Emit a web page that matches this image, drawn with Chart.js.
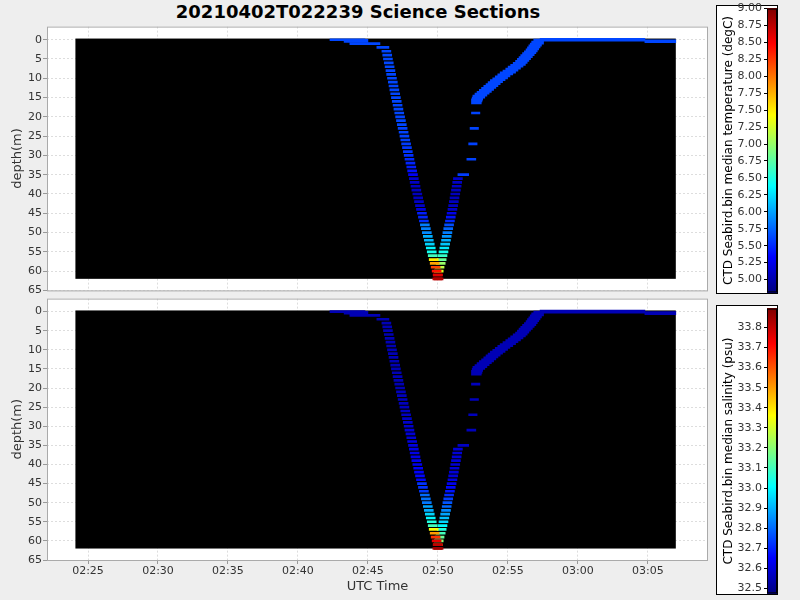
<!DOCTYPE html>
<html><head><meta charset="utf-8">
<script src="https://cdn.jsdelivr.net/npm/chart.js@4.4.1/dist/chart.umd.min.js"></script>
<style>
body{margin:0;background:#eeeeee;width:800px;height:600px;overflow:hidden;font-family:"DejaVu Sans",sans-serif}
canvas{position:absolute}
.box{position:absolute;left:716px;width:62px;background:#fff;border:1px solid #000;box-sizing:border-box}
#title{position:absolute;left:0;width:716px;top:1px;text-align:center;font:bold 18px "DejaVu Sans";color:#000}
</style></head><body>
<div id="title">20210402T022239 Science Sections</div>
<div class="box" style="top:5px;height:289px"></div>
<div class="box" style="top:305px;height:290px"></div>
<canvas id="tempChart" style="left:0;top:19px;width:712px;height:279px"></canvas>
<canvas id="salChart" style="left:0;top:291px;width:712px;height:309px"></canvas>
<canvas id="tempBar" style="left:716px;top:0;width:63px;height:301px"></canvas>
<canvas id="salBar" style="left:716px;top:300px;width:63px;height:302px"></canvas>
<script>
// times are minutes after 02:00 UTC
const downDepth = [0,1,2,3,4,5,6,7,8,9,10,11,12,13,14,15,16,17,18,19,20,21,22,23,24,25,26,27,28,29,30,31,32,33,34,35,36,37,38,39,40,41,42,43,44,45,46,47,48,49,50,51,52,53,54,55,56,57,58,59,60,61,62];
const downStart = [42.29,43.71,45.64,46.00,46.06,46.11,46.17,46.23,46.29,46.34,46.40,46.46,46.51,46.57,46.63,46.68,46.74,46.80,46.86,46.92,46.98,47.04,47.10,47.16,47.23,47.29,47.35,47.41,47.47,47.53,47.59,47.65,47.72,47.78,47.84,47.90,47.96,48.02,48.08,48.14,48.21,48.27,48.33,48.40,48.47,48.54,48.61,48.68,48.75,48.82,48.89,48.96,49.03,49.10,49.17,49.24,49.31,49.38,49.45,49.52,49.59,49.66,49.73];
const downEnd = [44.79,45.86,46.50,46.64,46.70,46.75,46.81,46.87,46.93,46.98,47.04,47.10,47.15,47.21,47.27,47.32,47.38,47.44,47.50,47.56,47.62,47.68,47.74,47.80,47.87,47.93,47.99,48.05,48.11,48.17,48.23,48.29,48.36,48.42,48.48,48.54,48.60,48.66,48.72,48.78,48.85,48.91,48.97,49.04,49.11,49.18,49.25,49.32,49.39,49.46,49.53,49.60,49.67,49.74,49.81,49.88,49.95,50.02,50.09,50.16,50.23,50.30,50.37];
const downTemp = [5.62,5.62,5.62,5.62,5.62,5.63,5.62,5.62,5.61,5.62,5.62,5.62,5.61,5.62,5.62,5.62,5.62,5.61,5.62,5.62,5.61,5.62,5.62,5.60,5.61,5.60,5.60,5.58,5.56,5.55,5.52,5.50,5.48,5.45,5.40,5.30,5.12,5.10,5.08,5.08,5.07,5.08,5.10,5.12,5.20,5.45,5.48,5.52,5.85,5.86,5.90,6.05,6.08,6.20,6.35,6.45,6.65,7.50,7.80,8.20,8.40,8.60,8.80];
const downSal = [32.55,32.55,32.55,32.55,32.55,32.55,32.55,32.55,32.55,32.55,32.55,32.55,32.55,32.55,32.55,32.55,32.55,32.55,32.55,32.55,32.55,32.56,32.56,32.56,32.56,32.56,32.57,32.57,32.57,32.58,32.58,32.60,32.60,32.60,32.61,32.61,32.62,32.62,32.62,32.63,32.63,32.65,32.65,32.66,32.66,32.72,32.72,32.73,32.80,32.81,32.82,32.88,32.89,32.95,33.00,33.05,33.10,33.35,33.50,33.65,33.75,33.80,33.85];

const upDepth = [62,61,60,59,58,57,56,55,54,53,52,51,50,49,48,47,46,45,44,43,42,41,40,39,38,37,36];
const upStart = [49.64,49.68,49.74,49.80,49.88,49.95,50.01,50.08,50.14,50.20,50.26,50.31,50.36,50.42,50.48,50.54,50.60,50.66,50.72,50.77,50.82,50.87,50.92,50.97,51.02,51.06,51.11];
const upEnd = [50.28,50.32,50.38,50.44,50.52,50.59,50.65,50.72,50.78,50.84,50.90,50.95,51.00,51.06,51.12,51.18,51.24,51.30,51.36,51.41,51.46,51.51,51.56,51.61,51.66,51.70,51.75];
const upTemp = [8.70,8.40,7.30,7.15,7.00,6.80,6.60,6.45,6.30,6.15,6.05,5.95,5.85,5.75,5.65,5.50,5.40,5.25,5.10,5.08,5.08,5.07,5.08,5.08,5.10,5.10,5.12];
const upSal = [33.82,33.60,33.20,33.15,33.10,33.05,33.00,32.95,32.92,32.88,32.84,32.80,32.77,32.74,32.71,32.68,32.66,32.63,32.61,32.60,32.60,32.60,32.60,32.60,32.60,32.60,32.60];

const sparseDepth = [35,31,27,23,19];
const sparseStart = [51.43,52.07,52.20,52.30,52.40];
const sparseEnd = [52.20,52.71,52.80,52.90,53.00];
const sparseTemp = [5.58,5.60,5.60,5.61,5.61];
const sparseSal = [32.57,32.56,32.56,32.56,32.56];

const bandDepth = [16,15.5,15,14.5,14,13.5,13,12.5,12,11.5,11,10.5,10,9.5,9,8.5,8,7.5,7,6.5,6,5.5,5,4.5,4,3.5,3,2.5,2,1.5,1,0.5];
const bandStart = [52.40,52.45,52.50,52.65,52.80,52.96,53.12,53.28,53.44,53.59,53.75,53.92,54.10,54.28,54.45,54.65,54.85,55.02,55.20,55.38,55.55,55.68,55.80,55.92,56.05,56.18,56.30,56.40,56.50,56.60,56.70,56.85];
const bandEnd = [53.10,53.15,53.20,53.35,53.50,53.66,53.82,53.98,54.14,54.29,54.45,54.62,54.80,54.98,55.15,55.35,55.55,55.72,55.90,56.08,56.25,56.38,56.50,56.62,56.75,56.88,57.00,57.10,57.20,57.30,57.40,57.55];
const bandTemp = [5.62,5.62,5.62,5.62,5.62,5.62,5.62,5.62,5.62,5.62,5.62,5.62,5.62,5.62,5.62,5.62,5.62,5.62,5.62,5.62,5.62,5.62,5.62,5.62,5.62,5.62,5.62,5.62,5.62,5.62,5.62,5.62];
const bandSal = [32.55,32.55,32.55,32.55,32.55,32.55,32.55,32.55,32.55,32.55,32.55,32.55,32.55,32.55,32.55,32.55,32.55,32.55,32.55,32.55,32.55,32.55,32.55,32.55,32.55,32.55,32.55,32.55,32.55,32.55,32.55,32.55];

const surfDepth = [0.3,0,0.4];
const surfStart = [43.30,57.30,64.79];
const surfEnd = [45.00,64.79,67.00];
const surfTemp = [5.62,5.62,5.62];
const surfSal = [32.55,32.55,32.55];

const tempRange = [4.81, 9.0];
const salRange = [32.475, 33.894];
const timeTicks = [25,30,35,40,45,50,55,60,65];
const depthTicks = [0,5,10,15,20,25,30,35,40,45,50,55,60,65];

function jet(v, range) {
    const t = Math.max(0, Math.min(1, (v - range[0]) / (range[1] - range[0])));
    const c = x => Math.round(255 * Math.max(0, Math.min(1, x)));
    return `rgb(${c(1.5 - Math.abs(4*t - 3))},${c(1.5 - Math.abs(4*t - 2))},${c(1.5 - Math.abs(4*t - 1))})`;
}

function timeLabel(m) {
    const h = 2 + Math.floor(m / 60), mm = Math.round(m % 60);
    return String(h).padStart(2,'0') + ':' + String(mm).padStart(2,'0');
}

function barSet(depths, starts, ends, vals, range, thick) {
    return {
        data: depths.map((d, i) => ({ y: d, x: [starts[i], ends[i]] })),
        backgroundColor: vals.map(v => jet(v, range)),
        barThickness: thick,
        grouped: false,
        borderWidth: 0
    };
}

// fond noir + cadre
const panelPlugin = {
    id: 'panel',
    beforeDatasetsDraw(chart) {
        const { ctx, scales: { x, y } } = chart;
        ctx.save();
        ctx.fillStyle = '#000';
        const l = x.getPixelForValue(24.1), r = x.getPixelForValue(67.0);
        const t = y.getPixelForValue(-0.3), b = y.getPixelForValue(62);
        ctx.fillRect(l, t, r - l, b - t);
        ctx.restore();
    },
    beforeDraw(chart) {
        const { ctx, chartArea: a } = chart;
        ctx.save();
        ctx.fillStyle = '#fff';
        ctx.fillRect(a.left, a.top, a.right - a.left, a.bottom - a.top);
        ctx.restore();
    },
    afterDraw(chart) {
        const { ctx, chartArea: a } = chart;
        ctx.save();
        ctx.strokeStyle = '#aaa';
        ctx.lineWidth = 1;
        ctx.strokeRect(a.left + 0.5, a.top + 0.5, a.right - a.left - 1, a.bottom - a.top);
        ctx.restore();
    }
};

function makePanel(id, vals, showX) {
    const range = vals.range;
    return new Chart(document.getElementById(id), {
        type: 'bar',
        data: {
            datasets: [
                barSet(downDepth, downStart, downEnd, vals.down, range, 2),
                barSet(upDepth, upStart, upEnd, vals.up, range, 2),
                barSet(sparseDepth, sparseStart, sparseEnd, vals.sparse, range, 2),
                barSet(bandDepth, bandStart, bandEnd, vals.band, range, 5),
                barSet(surfDepth, surfStart, surfEnd, vals.surf, range, 3)
            ]
        },
        options: {
            indexAxis: 'y',
            responsive: false,
            animation: false,
            devicePixelRatio: 1,
            layout: { padding: { top: 4, right: 4, bottom: showX ? 0 : 1 } },
            plugins: { legend: { display: false }, tooltip: { enabled: false } },
            scales: {
                x: {
                    type: 'linear', min: 22.07, max: 69.3, offset: false,
                    afterBuildTicks: s => { s.ticks = timeTicks.map(v => ({ value: v })); },
                    afterFit: s => { s.height = showX ? 40 : 0; },
                    ticks: { display: showX, callback: v => timeLabel(v), color: '#333', font: { family: 'DejaVu Sans', size: 11 }, padding: 1 },
                    grid: { color: '#ddd', drawTicks: showX, tickLength: 4, tickColor: '#999', offset: false },
                    border: { display: false, dash: [2, 2] },
                    title: { display: showX, text: 'UTC Time', color: '#333', font: { family: 'DejaVu Sans', size: 13 }, padding: { top: 0, bottom: 6 } }
                },
                y: {
                    type: 'linear', min: -3.4, max: 65, reverse: true, offset: false,
                    afterBuildTicks: s => { s.ticks = depthTicks.map(v => ({ value: v })); },
                    afterFit: s => { s.width = 47; },
                    ticks: { color: '#333', font: { family: 'DejaVu Sans', size: 11 }, padding: 1 },
                    grid: { color: '#ddd', tickLength: 4, tickColor: '#999', offset: false },
                    border: { display: false, dash: [2, 2] },
                    title: { display: true, text: 'depth(m)', color: '#333', font: { family: 'DejaVu Sans', size: 13 }, padding: { top: 10, bottom: 0 } }
                }
            }
        },
        plugins: [panelPlugin]
    });
}

const stripPlugin = {
    id: 'strip',
    beforeDatasetsDraw(chart, args, opts) {
        const { ctx, chartArea: a, scales: { y } } = chart;
        ctx.save();
        for (let p = Math.floor(a.top); p < a.bottom; p++) {
            ctx.fillStyle = jet(y.getValueForPixel(p + 0.5), opts.range);
            ctx.fillRect(a.left, p, a.right - a.left, 1);
        }
        ctx.strokeStyle = '#000';
        ctx.strokeRect(a.left + 0.5, a.top + 0.5, a.right - a.left - 1, a.bottom - a.top - 1);
        ctx.restore();
    }
};

function makeColorbar(id, range, ticks, decimals, label) {
    return new Chart(document.getElementById(id), {
        type: 'bar',
        data: { labels: [''], datasets: [{ data: [] }] },
        options: {
            responsive: false,
            animation: false,
            devicePixelRatio: 1,
            layout: { padding: { top: 2, bottom: 2, right: 2, left: 6 } },
            plugins: { legend: { display: false }, tooltip: { enabled: false }, strip: { range: range } },
            scales: {
                x: { display: false },
                y: {
                    type: 'linear', min: range[0], max: range[1],
                    afterBuildTicks: s => { s.ticks = ticks.map(v => ({ value: v })); },
                    afterFit: s => { s.width = 45; },
                    ticks: { callback: v => v.toFixed(decimals), color: '#333', font: { family: 'DejaVu Sans', size: 11 }, padding: 2 },
                    grid: { drawOnChartArea: false, tickLength: 3, tickColor: '#000' },
                    border: { display: false },
                    title: { display: true, text: label, color: '#000', font: { family: 'DejaVu Sans', size: 12 }, padding: 0 }
                }
            }
        },
        plugins: [stripPlugin]
    });
}

const tempTicks = [5.00,5.25,5.50,5.75,6.00,6.25,6.50,6.75,7.00,7.25,7.50,7.75,8.00,8.25,8.50,8.75,9.00];
const salTicks = [32.5,32.6,32.7,32.8,32.9,33.0,33.1,33.2,33.3,33.4,33.5,33.6,33.7,33.8];

makePanel('tempChart', { range: tempRange, down: downTemp, up: upTemp, sparse: sparseTemp, band: bandTemp, surf: surfTemp }, false);
makePanel('salChart', { range: salRange, down: downSal, up: upSal, sparse: sparseSal, band: bandSal, surf: surfSal }, true);
makeColorbar('tempBar', tempRange, tempTicks, 2, 'CTD Seabird.bin median temperature (degC)');
makeColorbar('salBar', salRange, salTicks, 1, 'CTD Seabird.bin median salinity (psu)');
</script>
</body></html>
